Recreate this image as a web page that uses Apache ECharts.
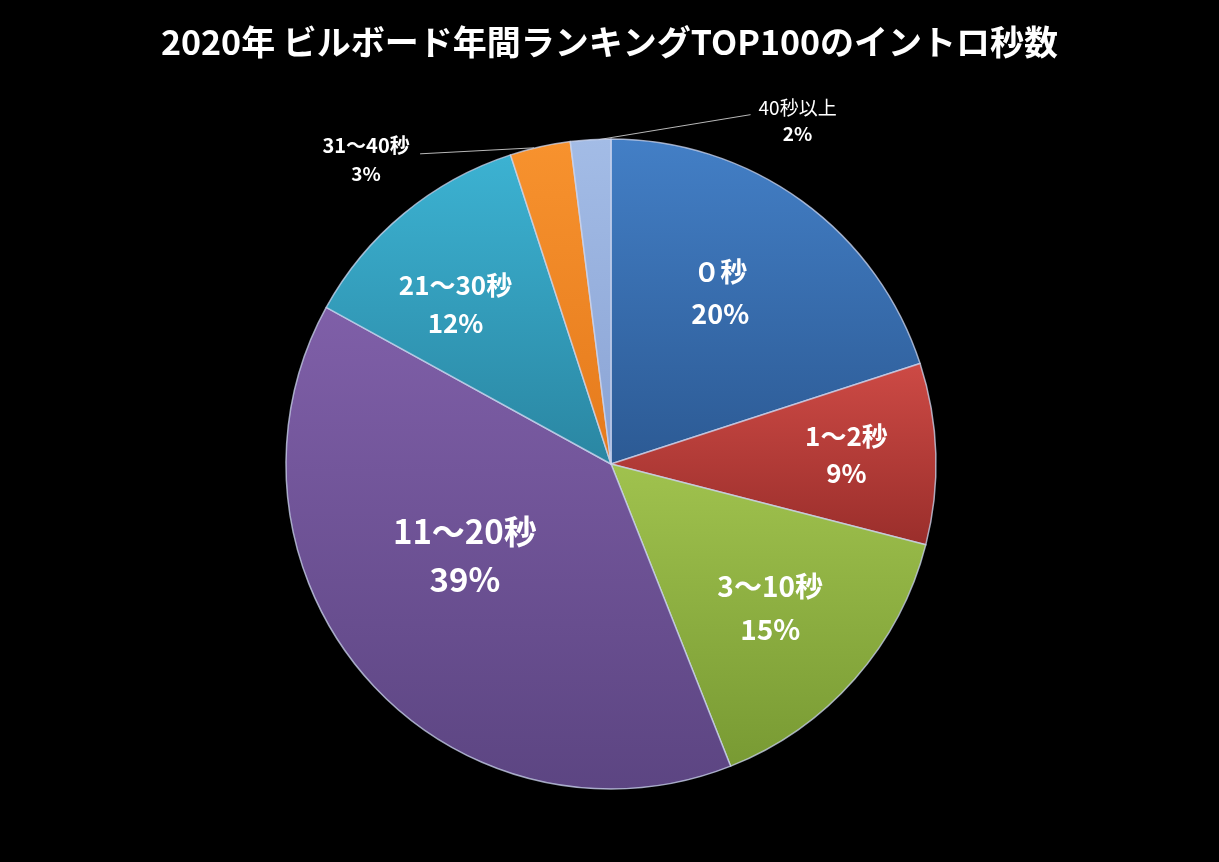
<!DOCTYPE html>
<html>
<head>
<meta charset="utf-8">
<script src="https://cdn.jsdelivr.net/npm/echarts@6/dist/echarts.min.js"></script>
<style>
  html, body { margin: 0; padding: 0; background: #000; }
  #chart { width: 1219px; height: 862px; }
</style>
</head>
<body>
<div id="chart"></div>
<script>
// data (percent of the top 100 songs)
var categories = ['０秒', '1～2秒', '3～10秒', '11～20秒', '21～30秒', '31～40秒', '40秒以上'];
var shares = [20, 9, 15, 39, 12, 3, 2];

// slice colours, top -> bottom of each gradient
var sliceTop = ['#437fc6', '#cd4a45', '#a0c24e', '#7f5fa8', '#3cb2d2', '#f7922e', '#a3bce6'];
var sliceBottom = ['#2c5a94', '#9a2e2b', '#789a33', '#5c4582', '#2a86a2', '#e57a1c', '#8aa3d4'];

// label look per slice
var labelSize = [27, 26, 28, 33, 26, 20, 20];
var labelGap = [42, 37, 43, 48, 38, 28, 26];
// small nudges so the inside labels sit where Excel put them
var nudge = [[12, -37], [70, -4], [35, 34], [-22, -18], [-50, -32], [0, 0], [0, 0]];

var chart = echarts.init(document.getElementById('chart'));

var font = '"Noto Sans CJK JP", "Noto Sans", sans-serif';

function richLine(size, bold, gap) {
    return {fontSize: size, fontWeight: bold ? 'bold' : 'normal', color: '#fff',
        fontFamily: font, width: 100, align: 'center', lineHeight: gap};
}

var data = categories.map(function (name, i) {
    var item = {
        name: name,
        value: shares[i],
        itemStyle: {
            color: new echarts.graphic.LinearGradient(0, 0, 0, 1, [
                {offset: 0, color: sliceTop[i]},
                {offset: 1, color: sliceBottom[i]}
            ])
        }
    };
    if (i < 5) {
        item.label = {
            position: 'inside',
            fontSize: labelSize[i],
            lineHeight: labelGap[i]
        };
        item.labelLine = {show: false};
    } else {
        item.label = {
            position: 'outside',
            formatter: i === 5 ? '{a|{b}}\n{b2|{c}%}' : '{a2|{b}}\n{b2|{c}%}',
            rich: {
                a: richLine(labelSize[i], true, labelGap[i]),
                a2: richLine(labelSize[i] - 1, false, labelGap[i]),
                b2: richLine(labelSize[i] - 1, true, labelGap[i])
            }
        };
        item.labelLine = {
            show: true,
            length: 3,
            length2: 110,
            lineStyle: {color: '#b8b8b8', width: 1}
        };
    }
    return item;
});

chart.setOption({
    backgroundColor: '#000',
    animation: false,
    title: {
        text: '2020年 ビルボード年間ランキングTOP100のイントロ秒数',
        left: 'center',
        top: 20,
        textStyle: {
            color: '#fff',
            fontSize: 34,
            fontWeight: 'bold',
            fontFamily: font
        }
    },
    series: [{
        type: 'pie',
        center: [611, 464],
        radius: [0, 325],
        startAngle: 90,
        clockwise: true,
        avoidLabelOverlap: false,
        itemStyle: {
            borderColor: 'rgba(205,215,240,0.75)',
            borderWidth: 1.5
        },
        label: {
            color: '#fff',
            fontWeight: 'bold',
            fontFamily: font,
            formatter: '{b}\n{c}%'
        },
        labelLayout: function (p) {
            var i = p.dataIndex;
            var a = p.labelLinePoints && p.labelLinePoints[0];
            if (i === 6 && a) {
                return {
                    x: a[0] + 207,
                    y: a[1] - 19,
                    align: 'center',
                    verticalAlign: 'middle',
                    labelLinePoints: [[a[0] + 8, a[1]], [a[0] + 160, a[1] - 25]]
                };
            }
            if (i === 5 && a) {
                return {
                    x: a[0] - 124,
                    y: a[1] + 13,
                    align: 'right',
                    verticalAlign: 'middle',
                    labelLinePoints: [[a[0] - 6, a[1] + 1], [a[0] - 120, a[1] + 7]]
                };
            }
            if (i < 5) {
                return {dx: nudge[i][0], dy: nudge[i][1]};
            }
            return {};
        },
        data: data
    }]
});
</script>
</body>
</html>
